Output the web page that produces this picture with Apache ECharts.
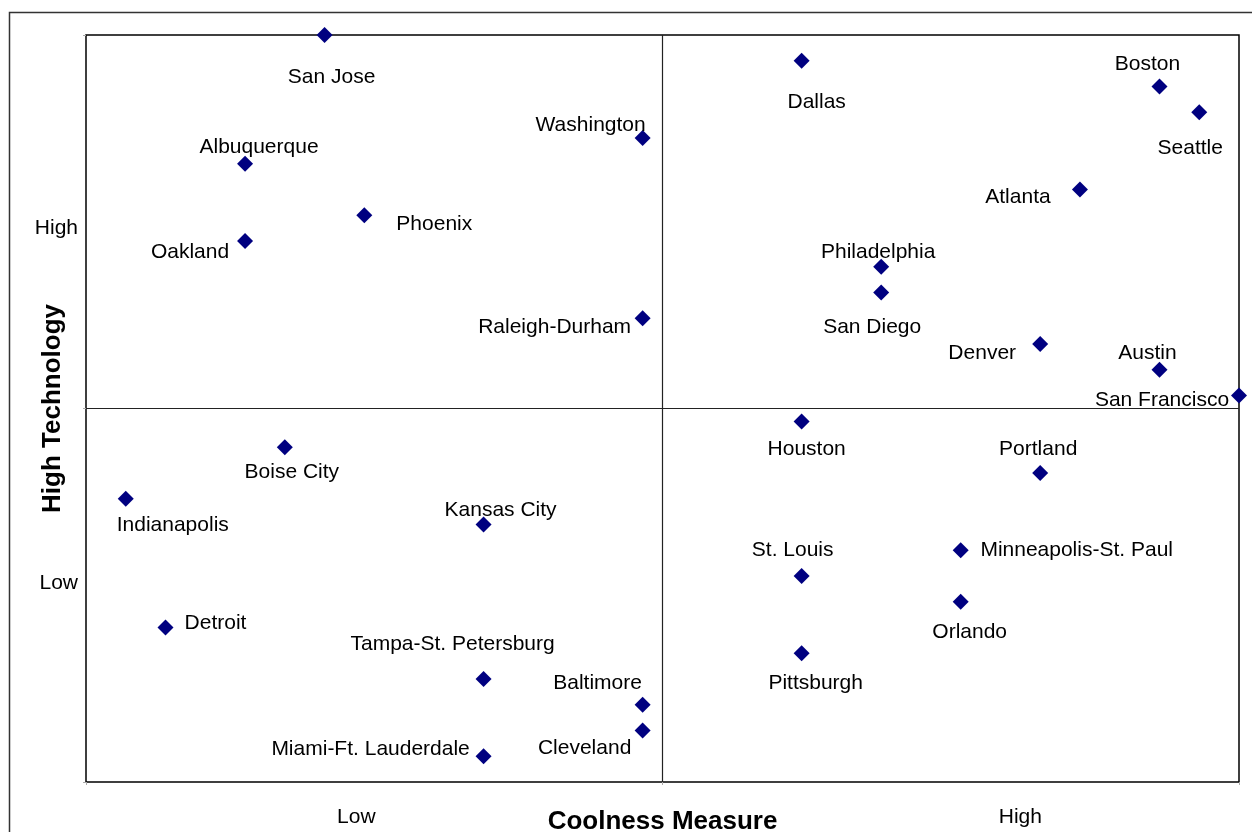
<!DOCTYPE html>
<html>
<head>
<meta charset="utf-8">
<script src="https://cdn.jsdelivr.net/npm/echarts@6/dist/echarts.min.js"></script>
<style>
  html, body { margin: 0; padding: 0; background: #fff; }
  #chart { width: 1252px; height: 832px; }
</style>
</head>
<body>
<div id="chart"></div>
<script>
// city ranks (x = coolness, y = high technology)
var cities = ['San Jose', 'Dallas', 'Boston', 'Seattle', 'Washington', 'Albuquerque',
  'Atlanta', 'Phoenix', 'Oakland', 'Philadelphia', 'San Diego', 'Raleigh-Durham',
  'Denver', 'Austin', 'San Francisco', 'Houston', 'Boise City', 'Portland',
  'Indianapolis', 'Kansas City', 'Minneapolis-St. Paul', 'St. Louis', 'Orlando',
  'Detroit', 'Pittsburgh', 'Tampa-St. Petersburg', 'Baltimore', 'Cleveland',
  'Miami-Ft. Lauderdale'];
var coolness = [6, 18, 27, 28, 14, 4, 25, 7, 4, 20, 20, 14, 24, 27, 29, 18, 5, 24,
  1, 10, 22, 18, 22, 2, 18, 10, 14, 14, 10];
var hiTech = [29, 28, 27, 26, 25, 24, 23, 22, 21, 20, 19, 18, 17, 16, 15, 14, 13, 12,
  11, 10, 9, 8, 7, 6, 5, 4, 3, 2, 1];

var xTickValues = [6.8, 23.5];
var xTickLabels = ['Low', 'High'];
var yTickValues = [7.7, 21.5];
var yTickLabels = ['Low', 'High'];
var midValue = 14.5;

// where each name sits relative to its marker (pixels)
var labelOffset = {
  'San Jose': [7, 42], 'Dallas': [15, 41], 'Boston': [-12, -22], 'Seattle': [-9, 36],
  'Washington': [-52, -13], 'Albuquerque': [14, -17], 'Atlanta': [-62, 8],
  'Phoenix': [70, 9], 'Oakland': [-55, 11], 'Philadelphia': [-3, -15],
  'San Diego': [-9, 35], 'Raleigh-Durham': [-88, 9], 'Denver': [-58, 9],
  'Austin': [-12, -17], 'San Francisco': [-77, 5], 'Houston': [5, 28],
  'Boise City': [7, 25], 'Portland': [-2, -24], 'Indianapolis': [47, 27],
  'Kansas City': [17, -14], 'Minneapolis-St. Paul': [116, 0], 'St. Louis': [-9, -26],
  'Orlando': [9, 31], 'Detroit': [50, -4], 'Pittsburgh': [14, 30],
  'Tampa-St. Petersburg': [-31, -35], 'Baltimore': [-45, -22], 'Cleveland': [-58, 18],
  'Miami-Ft. Lauderdale': [-113, -7]
};

var FONT = '"Liberation Sans", Arial, sans-serif';

function pickLabel(values, labels) {
  return function (v) {
    var best = 0;
    for (var i = 1; i < values.length; i++) {
      if (Math.abs(values[i] - v) < Math.abs(values[best] - v)) best = i;
    }
    return labels[best];
  };
}

var points = cities.map(function (name, i) {
  return {
    name: name,
    value: [coolness[i], hiTech[i]],
    label: { offset: labelOffset[name] || [0, 0] }
  };
});

var myChart = echarts.init(document.getElementById('chart'));
myChart.setOption({
  animation: false,
  backgroundColor: '#fff',
  textStyle: { fontFamily: FONT },
  graphic: [{
    type: 'rect',
    left: 7, top: 10,
    shape: { width: 1260, height: 900 },
    style: { fill: 'none', stroke: '#333', lineWidth: 1.5 },
    silent: true
  }],
  grid: {
    left: 86, top: 35, right: 13, bottom: 50,
    outerBoundsMode: 'none',
    containLabel: false,
    show: true, borderColor: '#000', borderWidth: 1.5
  },
  xAxis: {
    type: 'value', min: 0, max: 29,
    name: 'Coolness Measure', nameLocation: 'middle', nameGap: 27,
    nameMoveOverlap: false,
    nameTextStyle: { fontFamily: FONT, fontSize: 26, fontWeight: 'bold', color: '#000' },
    axisLine: { show: false },
    splitLine: { show: false },
    axisTick: { show: true, customValues: [0, midValue, 29], length: 3, lineStyle: { color: '#aaa' } },
    axisLabel: {
      show: true,
      customValues: xTickValues,
      hideOverlap: false,
      formatter: pickLabel(xTickValues, xTickLabels),
      fontFamily: FONT, fontSize: 21, color: '#000', margin: 25
    }
  },
  yAxis: {
    type: 'value', min: 0, max: 29,
    name: 'High Technology', nameLocation: 'middle', nameGap: 20,
    nameMoveOverlap: false,
    nameTextStyle: { fontFamily: FONT, fontSize: 26, fontWeight: 'bold', color: '#000' },
    axisLine: { show: false },
    splitLine: { show: false },
    axisTick: { show: true, customValues: [0, midValue, 29], length: 3, lineStyle: { color: '#aaa' } },
    axisLabel: {
      show: true,
      customValues: yTickValues,
      hideOverlap: false,
      formatter: pickLabel(yTickValues, yTickLabels),
      fontFamily: FONT, fontSize: 21, color: '#000', margin: 8
    }
  },
  series: [{
    type: 'scatter',
    clip: false,
    symbol: 'diamond',
    symbolSize: [16, 16],
    itemStyle: { color: '#000080', opacity: 1 },
    label: {
      show: true,
      position: 'inside',
      formatter: '{b}',
      fontFamily: FONT, fontSize: 21, color: '#000'
    },
    markLine: {
      silent: true,
      symbol: 'none',
      label: { show: false },
      lineStyle: { color: '#222', width: 1.2, type: 'solid', opacity: 1 },
      data: [{ xAxis: midValue }, { yAxis: midValue }]
    },
    data: points
  }]
});
</script>
</body>
</html>
